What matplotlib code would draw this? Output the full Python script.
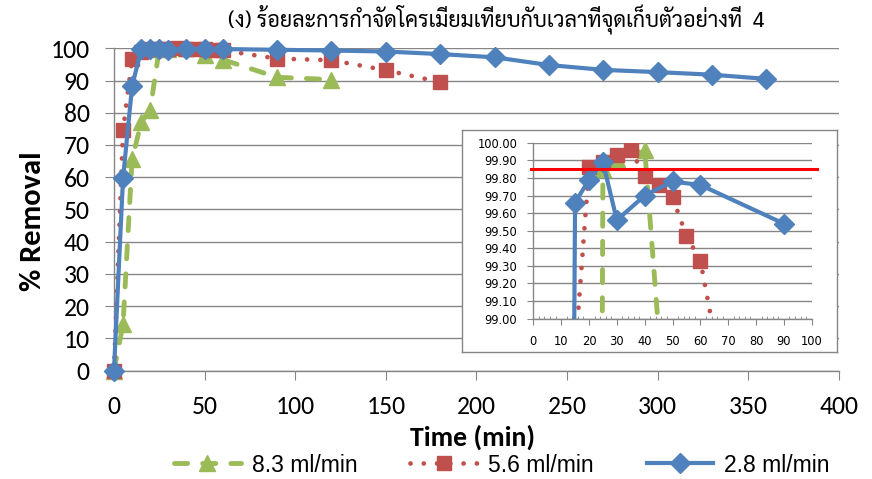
import matplotlib
matplotlib.use('Agg')
import matplotlib.pyplot as plt
import numpy as np

# sampling times (min) and % removal for each flow rate
time_83 = [0, 5, 10, 15, 20, 25, 30, 40, 50, 60, 90, 120]
removal_83 = [0, 14.4, 65.5, 77.0, 81.0, 99.85, 99.91, 99.96, 97.9, 96.5, 91.0, 90.3]

time_56 = [0, 5, 10, 15, 20, 25, 30, 35, 40, 45, 50, 55, 60, 90, 120, 150, 180]
removal_56 = [0, 74.5, 96.7, 98.8, 99.86, 99.89, 99.93, 99.96, 99.81, 99.76,
              99.69, 99.47, 99.33, 96.8, 96.3, 93.2, 89.5]

time_28 = [0, 5, 10, 15, 20, 25, 30, 40, 50, 60, 90, 120, 150, 180, 210,
           240, 270, 300, 330, 360]
removal_28 = [0, 59.7, 88.2, 99.66, 99.79, 99.89, 99.56, 99.70, 99.78, 99.76,
              99.54, 99.3, 99.0, 98.2, 97.2, 94.8, 93.3, 92.6, 91.8, 90.5]

labels = ['8.3 ml/min', '5.6 ml/min', '2.8 ml/min']
limit_line = 99.85
inset_tmax = 90  # the zoomed chart only carries the first 90 min

title = '(ง) ร้อยละการกำจัดโครเมียมเทียบกับเวลาที่จุดเก็บตัวอย่างที่  4'

GREEN = '#9BBB59'
RED = '#C0504D'
BLUE = '#4F81BD'
GRID = '#868686'


def cut(t, y, tmax):
    if tmax is None:
        return t, y
    pairs = [(a, b) for a, b in zip(t, y) if a <= tmax]
    return [p[0] for p in pairs], [p[1] for p in pairs]


def draw_series(ax, clip=True, tmax=None):
    kw = dict(clip_on=clip)
    g, = ax.plot(*cut(time_83, removal_83, tmax), color=GREEN, lw=3.5,
                 ls=(0, (2.7, 3.1)), dash_capstyle='round', marker='^', ms=12,
                 mec=GREEN, mfc=GREEN, zorder=3, **kw)
    r, = ax.plot(*cut(time_56, removal_56, tmax), color=RED, lw=3.4,
                 ls=(0, (0.01, 2.8)), dash_capstyle='round', marker='s', ms=10.5,
                 mec=RED, mfc=RED, zorder=4, **kw)
    b, = ax.plot(*cut(time_28, removal_28, tmax), color=BLUE, lw=3.0, ls='-',
                 marker='D', ms=10.5, mec=BLUE, mfc=BLUE, zorder=5, **kw)
    return [g, r, b]


def main():
    fig = plt.figure(figsize=(8.72, 4.79), dpi=100)

    # main chart
    ax = fig.add_axes([0.1307, 0.2263, 0.8314, 0.6729])
    handles = draw_series(ax, clip=False)
    ax.set_xlim(0, 400)
    ax.set_ylim(0, 100)
    ax.set_xticks(np.arange(0, 401, 50))
    ax.set_yticks(np.arange(0, 101, 10))
    ax.yaxis.grid(True, color=GRID, lw=1.0)
    ax.set_axisbelow(True)
    for side in ['top', 'right']:
        ax.spines[side].set_visible(False)
    for side in ['left', 'bottom']:
        ax.spines[side].set_color(GRID)
        ax.spines[side].set_linewidth(1.0)
    ax.tick_params(axis='both', colors=GRID, labelcolor='black',
                   labelsize=18.5, length=6.5, pad=11)
    for lab in ax.get_xticklabels() + ax.get_yticklabels():
        lab.set_family('Carlito')

    fig.text(473 / 872, 1 - 437 / 479, 'Time (min)', ha='center', va='center',
             fontsize=20, fontweight='bold', family='Carlito')
    fig.text(33 / 872, 1 - 221 / 479, '% Removal', ha='center', va='center',
             rotation=90, fontsize=22, fontweight='bold', family='Carlito')
    fig.text(496 / 872, 1 - 20 / 479, title, ha='center', va='center',
             fontsize=15.5, family=['Sarabun', 'DejaVu Sans'])

    # inset frame
    frame = fig.add_axes([462 / 872, 1 - 352 / 479, 375 / 872, 222 / 479],
                         zorder=6)
    frame.set_facecolor('white')
    frame.set_xticks([])
    frame.set_yticks([])
    for sp in frame.spines.values():
        sp.set_color(GRID)
        sp.set_linewidth(1.0)

    # zoomed inset
    ins = fig.add_axes([0.6116, 0.335, 0.3193, 0.3668], zorder=7)
    ins.patch.set_alpha(0)
    draw_series(ins, clip=True, tmax=inset_tmax)
    ins.axhline(limit_line, xmin=-0.01, xmax=1.02, color='#FF0000', lw=2.2,
                clip_on=False, zorder=6)
    ins.set_xlim(0, 100)
    ins.set_ylim(99.0, 100.0)
    ins.set_xticks(np.arange(0, 101, 10))
    ins.set_xticks(np.arange(0, 101, 2), minor=True)
    ins.set_yticks(np.arange(99.0, 100.01, 0.1))
    ins.set_yticklabels([f'{v:.2f}' for v in np.arange(99.0, 100.01, 0.1)])
    ins.yaxis.grid(True, color=GRID, lw=1.0)
    ins.set_axisbelow(True)
    for side in ['top', 'right']:
        ins.spines[side].set_visible(False)
    for side in ['left', 'bottom']:
        ins.spines[side].set_color(GRID)
        ins.spines[side].set_linewidth(1.0)
    ins.tick_params(axis='both', which='major', colors=GRID, labelcolor='black',
                    labelsize=8.3, length=4.5, pad=7)
    ins.tick_params(axis='x', which='minor', colors=GRID, direction='in',
                    length=2.5)
    for lab in ins.get_xticklabels() + ins.get_yticklabels():
        lab.set_family('DejaVu Sans')

    fig.legend(handles, labels, loc='center', ncol=3, frameon=False,
               bbox_to_anchor=(502 / 872, 1 - 465 / 479),
               prop={'family': 'Liberation Sans', 'size': 16.5},
               handlelength=2.9, handletextpad=0.5, columnspacing=2.3,
               borderpad=0)

    fig.savefig('out.png', dpi=100)


if __name__ == '__main__':
    main()
